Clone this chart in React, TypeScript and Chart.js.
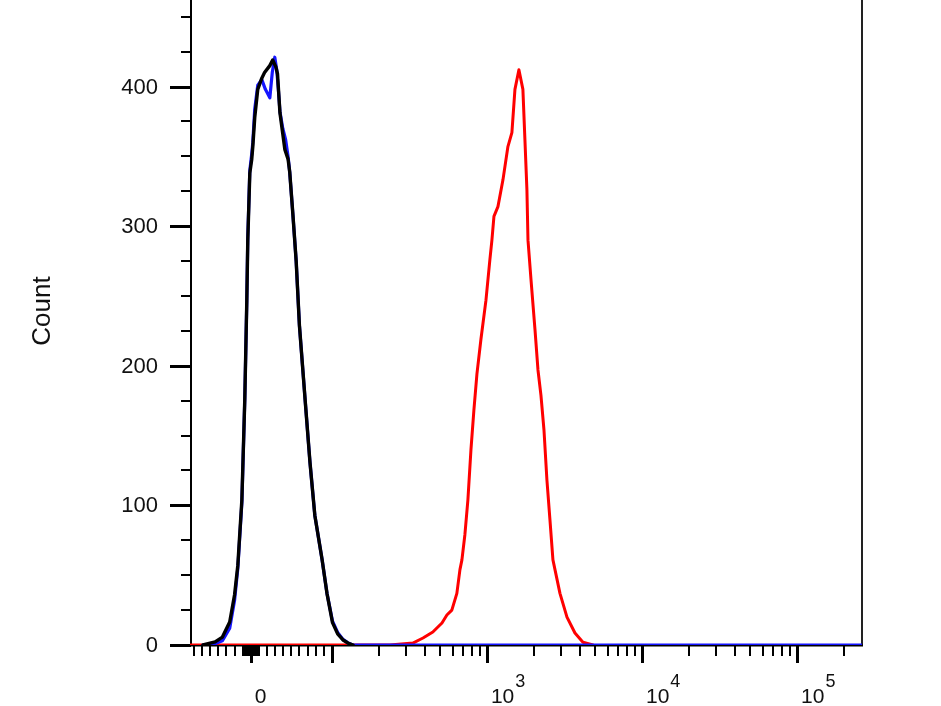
import React, { useEffect, useRef } from "react";
import { Chart, registerables } from "chart.js";

Chart.register(...registerables);

// ---- axis ranges (fluorescence intensity / count) ----
const X_MIN = -75;
const X_MAX = 262144;
const Y_MAX = 462;

// ---- y axis ticks ----
const yMajorTicks = [0, 100, 200, 300, 400];
const yTickLabels = ["0", "100", "200", "300", "400"];
const yMinorTicks = [25, 50, 75, 125, 150, 175, 225, 250, 275, 325, 350, 375, 425, 450];
const yTitle = "Count";

// ---- x axis ticks (biexponential display) ----
const xMajorTicks = [0, 100, 1000, 10000, 100000];
const xMinorTicks = [
  -70, -60, -50, -40, -30, -20, -10, -9, -8, -7, -6, -5, -4, -3, -2, -1,
  1, 2, 3, 4, 5, 6, 7, 8, 9, 10, 20, 30, 40, 50, 60, 70, 80, 90,
  200, 300, 400, 500, 600, 700, 800, 900,
  2000, 3000, 4000, 5000, 6000, 7000, 8000, 9000,
  20000, 30000, 40000, 50000, 60000, 70000, 80000, 90000,
  200000,
];
const xLabelValues = [0, 1000, 10000, 100000];
const xLabelBases = ["0", "10", "10", "10"];
const xLabelExps = ["", "3", "4", "5"];

// ---- series: black (control) ----
const blackX = [-59, -44, -35, -26, -20, -16, -11, -7.4, -4.9, -3.7, -1.2, 1.2, 2.5, 4.9, 8.6, 13.6, 17, 23.5, 27, 31, 33, 36, 39.5, 42, 46, 48, 52, 56, 60, 67, 73, 79, 88, 94, 101, 109, 118, 127, 137];
const blackY = [0, 2.2, 5.7, 16.5, 36, 57, 104, 176, 247, 290, 338, 348, 357, 378, 398, 406, 410, 415, 419, 414, 409, 381, 366, 355, 348, 339, 308, 275, 229, 176, 131, 93, 61, 37, 16, 8, 3.6, 1.4, 0];

// ---- series: blue (isotype) ----
const blueX = [-59, -44, -35, -26, -20, -16, -11, -7.4, -4.9, -3.7, -1.2, 1.2, 2.5, 4.9, 8.6, 13.6, 18, 23.5, 26.5, 29.6, 32, 34, 36, 39.5, 43, 46, 48, 52, 56, 60, 67, 73, 79, 88, 94, 101, 109, 118, 127, 137, 262144];
const blueY = [0, 1, 3, 12, 32, 55, 102, 176, 247, 292, 340, 352, 360, 384, 401, 405, 398, 392, 410, 421, 412, 398, 382, 370, 362, 350, 339, 308, 275, 229, 176, 131, 93, 61, 37, 17, 9, 4, 1.5, 0, 0];

// ---- series: red (stained) ----
const redX = [-75, 237, 333, 387, 448, 513, 552, 594, 640, 670, 690, 721, 754, 789, 824, 862, 915, 986, 1045, 1077, 1110, 1178, 1268, 1366, 1449, 1516, 1608, 1706, 1758, 1811, 1840, 1923, 2041, 2134, 2230, 2333, 2438, 2548, 2665, 2958, 3282, 3696, 4160, 4831];
const redY = [0, 0, 1.4, 5, 9.3, 15.8, 21.5, 25, 37, 54, 61, 79, 104, 140, 168, 194, 219, 247, 276, 290, 307, 314, 333, 357, 367, 398, 412, 398, 362, 326, 290, 262, 226, 197, 179, 154, 118, 90, 61, 37, 20, 8.6, 2, 0];

// biexponential-like display transform: linear near zero, log10 above 100
function toDisplay(v: number): number {
  return v <= 100 ? 2 + ((v - 100) / 100) * 0.5226 : Math.log10(v);
}

function pts(xs: number[], ys: number[]) {
  return xs.map((x, i) => ({ x: toDisplay(x), y: ys[i] }));
}

const FONT = "'Liberation Sans', Arial, Helvetica, sans-serif";

const axesPlugin = {
  id: "flowAxes",
  beforeDatasetsDraw(chart: any) {
    const { ctx, chartArea: a, scales } = chart;
    const xs = scales.x;
    const ys = scales.y;
    ctx.save();
    ctx.lineCap = "butt";
    ctx.strokeStyle = "#000";

    // left axis
    ctx.lineWidth = 2;
    ctx.beginPath();
    ctx.moveTo(a.left + 1, a.top);
    ctx.lineTo(a.left + 1, a.bottom + 1);
    ctx.stroke();
    // right border
    ctx.strokeStyle = "#222";
    ctx.beginPath();
    ctx.moveTo(a.right, a.top);
    ctx.lineTo(a.right, a.bottom + 1);
    ctx.stroke();
    // bottom axis
    ctx.strokeStyle = "#000";
    ctx.beginPath();
    ctx.moveTo(a.left, a.bottom + 0.5);
    ctx.lineTo(a.right + 1, a.bottom + 0.5);
    ctx.stroke();

    // y ticks
    ctx.lineWidth = 2;
    for (const v of yMinorTicks) {
      const py = Math.round(ys.getPixelForValue(v));
      ctx.beginPath();
      ctx.moveTo(a.left - 9, py);
      ctx.lineTo(a.left + 1, py);
      ctx.stroke();
    }
    ctx.lineWidth = 3;
    for (const v of yMajorTicks) {
      const py = Math.round(ys.getPixelForValue(v)) + 0.5;
      ctx.beginPath();
      ctx.moveTo(a.left - 20, py);
      ctx.lineTo(a.left + 1, py);
      ctx.stroke();
    }
    ctx.fillStyle = "#111";
    ctx.font = `22px ${FONT}`;
    ctx.textAlign = "right";
    ctx.textBaseline = "middle";
    yMajorTicks.forEach((v, i) => {
      const py = ys.getPixelForValue(v);
      ctx.fillText(yTickLabels[i], a.left - 32, py + 1);
    });

    // x ticks
    ctx.lineWidth = 2;
    for (const v of xMinorTicks) {
      const px = Math.round(xs.getPixelForValue(toDisplay(v)));
      if (px < a.left || px > a.right) continue;
      ctx.beginPath();
      ctx.moveTo(px, a.bottom);
      ctx.lineTo(px, a.bottom + 11);
      ctx.stroke();
    }
    ctx.lineWidth = 3;
    for (const v of xMajorTicks) {
      const px = Math.round(xs.getPixelForValue(toDisplay(v))) + 0.5;
      ctx.beginPath();
      ctx.moveTo(px, a.bottom);
      ctx.lineTo(px, a.bottom + 18);
      ctx.stroke();
    }
    // x labels with superscripts
    ctx.textAlign = "left";
    ctx.textBaseline = "alphabetic";
    xLabelValues.forEach((v, i) => {
      const px = xs.getPixelForValue(toDisplay(v)) + 4;
      const base = xLabelBases[i];
      const exp = xLabelExps[i];
      ctx.font = `21px ${FONT}`;
      ctx.fillText(base, px, a.bottom + 58);
      if (exp) {
        const w = ctx.measureText(base).width;
        ctx.font = `18px ${FONT}`;
        ctx.fillText(exp, px + w + 1, a.bottom + 42);
      }
    });

    // y title
    ctx.save();
    ctx.translate(50, 311);
    ctx.rotate(-Math.PI / 2);
    ctx.font = `26px ${FONT}`;
    ctx.textAlign = "center";
    ctx.textBaseline = "alphabetic";
    ctx.fillText(yTitle, 0, 0);
    ctx.restore();

    ctx.restore();
  },
};

export default function App() {
  const ref = useRef<HTMLCanvasElement | null>(null);
  useEffect(() => {
    if (!ref.current) return;
    const chart = new Chart(ref.current, {
      type: "line",
      data: {
        datasets: [
          { label: "black", data: pts(blackX, blackY), borderColor: "#000000", borderWidth: 3.4 },
          { label: "blue", data: pts(blueX, blueY), borderColor: "#1515ff", borderWidth: 3.2 },
          { label: "red", data: pts(redX, redY), borderColor: "#ff0000", borderWidth: 3 },
        ],
      },
      options: {
        responsive: false,
        animation: false,
        devicePixelRatio: 1,
        parsing: true,
        layout: { padding: { left: 190, right: 79, top: 0, bottom: 61 } },
        plugins: { legend: { display: false }, tooltip: { enabled: false } },
        elements: { point: { radius: 0 }, line: { tension: 0, fill: false, borderJoinStyle: "round", borderCapStyle: "round" } },
        scales: {
          x: { type: "linear", min: toDisplay(X_MIN), max: toDisplay(X_MAX), display: false },
          y: { type: "linear", min: 0, max: Y_MAX, display: false },
        },
      },
      plugins: [axesPlugin],
    });
    return () => chart.destroy();
  }, []);
  return (
    <div style={{ position: "fixed", left: 0, top: 0, width: 941, height: 706, background: "#fff" }}>
      <canvas ref={ref} width={941} height={706} />
    </div>
  );
}
